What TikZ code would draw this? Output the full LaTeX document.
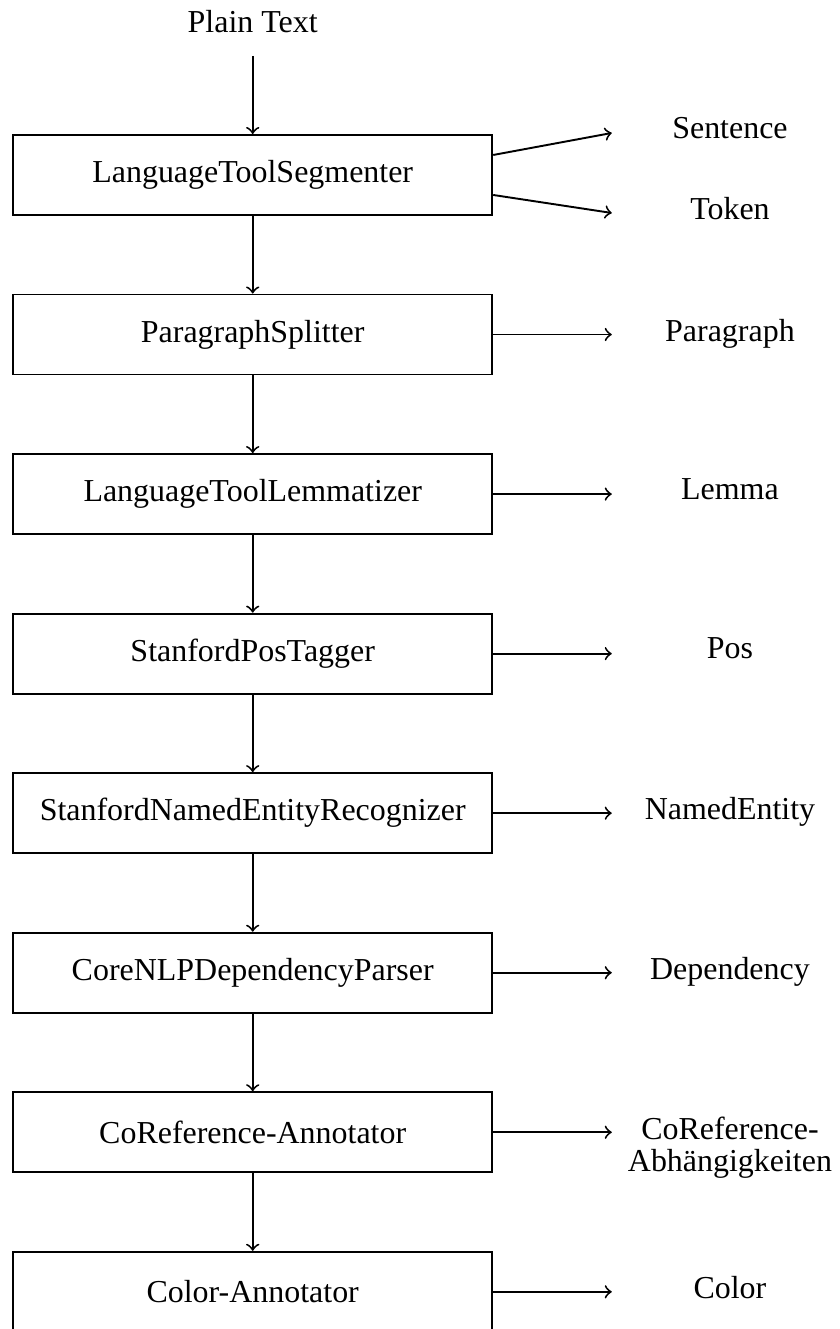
\documentclass[tikz,border=0pt]{standalone}
\usepackage{fontspec}
\setmainfont{Liberation Serif}
\usetikzlibrary{positioning}
\begin{document}
\begin{tikzpicture}[x=1cm, y=1cm, >=to, line width=0.6pt,
   stage/.style={draw, minimum width=5.27cm, minimum height=0.88cm, inner sep=0pt},
   result/.style={anchor=north, align=center}]
   \def\gap{0.854cm}
   \useasboundingbox (0,0) rectangle (9.24,-14.62);
   \coordinate (tipx) at (6.73,0);   % where the output arrows stop
   \coordinate (labx) at (8.03,0);   % middle of the output labels
   \node (input) at (2.78,-0.24) {Plain Text};
   \node[stage] (seg) at (2.78,-1.925) {LanguageToolSegmenter};
   \node[stage, below=\gap of seg] (para) {ParagraphSplitter};
   \node[stage, below=\gap of para] (lem) {LanguageToolLemmatizer};
   \node[stage, below=\gap of lem] (pos) {StanfordPosTagger};
   \node[stage, below=\gap of pos] (ner) {StanfordNamedEntityRecognizer};
   \node[stage, below=\gap of ner] (dep) {CoreNLPDependencyParser};
   \node[stage, below=\gap of dep] (coref) {CoReference-Annotator};
   \node[stage, below=\gap of coref] (color) {Color-Annotator};
   % pipeline
   \draw[->, shorten <=3.5pt] (input) -- (seg);
   \foreach \a/\b in {seg/para, para/lem, lem/pos, pos/ner, ner/dep, dep/coref, coref/color}
      \draw[->] (\a) -- (\b);
   % segmenter has two outputs
   \coordinate (sentTip) at (6.73,-1.463);
   \coordinate (tokTip) at (6.73,-2.343);
   \draw[->] ([yshift=0.22cm]seg.east) -- (sentTip);
   \draw[->] ([yshift=-0.22cm]seg.east) -- (tokTip);
   \node[result] (sentOut) at ([yshift=0.3cm]sentTip -| labx) {Sentence};
   \node[result] (tokOut) at ([yshift=0.3cm]tokTip -| labx) {Token};
   % one output for the others
   \foreach \n/\t in {para/Paragraph, lem/Lemma, pos/Pos, ner/NamedEntity, dep/Dependency,
         coref/{CoReference-\\[-2pt]Abhängigkeiten}, color/Color} {
      \coordinate (\n Tip) at (\n -| tipx);
      \draw[->] (\n.east) -- (\n Tip);
      \node[result] (\n Out) at ([yshift=0.3cm]\n Tip -| labx) {\t};
   }
\end{tikzpicture}
\end{document}
